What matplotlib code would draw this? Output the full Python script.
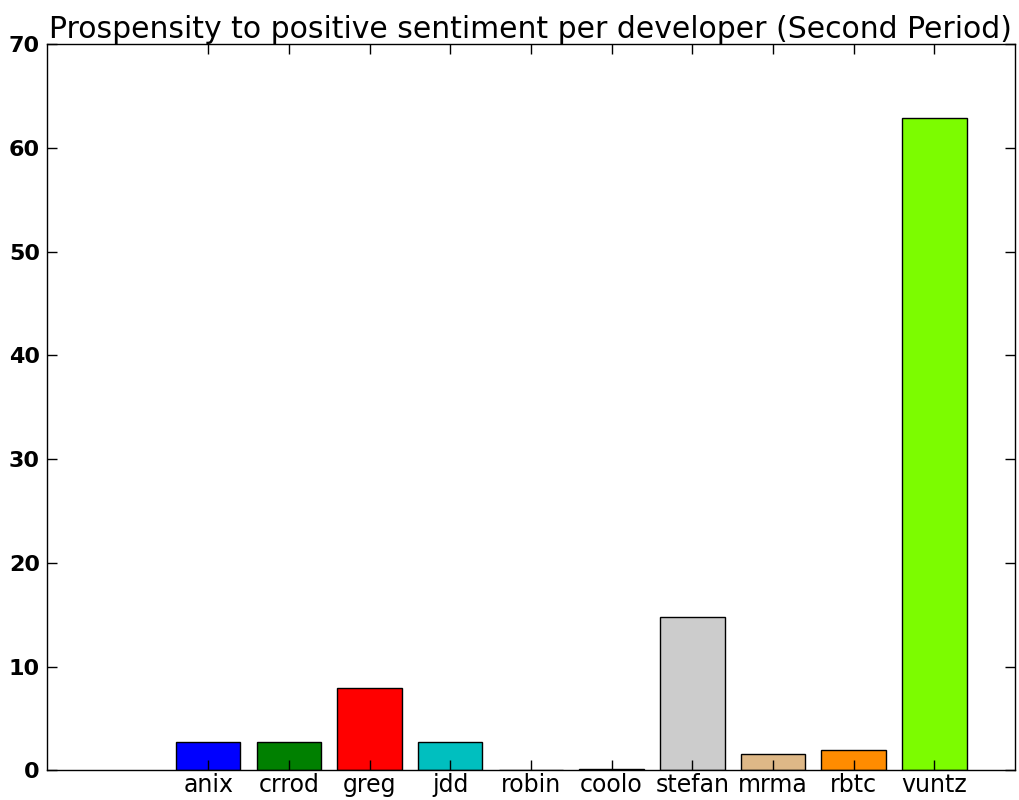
import matplotlib
matplotlib.use("Agg")
import matplotlib.pyplot as plt
import numpy as np

developers = ["anix", "crrod", "greg", "jdd", "robin", "coolo", "stefan", "mrma", "rbtc", "vuntz"]
positive = [2.7, 2.7, 7.9, 2.7, 0.0, 0.1, 14.8, 1.55, 2.0, 62.9]
colors = ["blue", "green", "red", "c", "m", "y", "0.8", "burlywood", "darkorange", "lawngreen"]

fig = plt.figure(figsize=(10.19, 8), dpi=100)
ax = fig.add_axes([0.046, 0.037, 0.950, 0.908])

x = np.arange(len(developers))
ax.bar(x, positive, width=0.8, color=colors, edgecolor="black", linewidth=1.0)

ax.set_xlim(-2, 10)
ax.set_ylim(0, 70)
ax.set_xticks(x)
ax.set_xticklabels(developers, fontsize=17)
ax.set_yticks(range(0, 71, 10))
ax.tick_params(axis="y", labelsize=16, pad=5)
ax.tick_params(axis="x", pad=2)
for lbl in ax.get_yticklabels():
    lbl.set_fontweight("bold")
ax.tick_params(direction="in", top=True, right=True, length=7, width=1)
for s in ax.spines.values():
    s.set_linewidth(1.0)

ax.set_title("Prospensity to positive sentiment per developer (Second Period)", fontsize=21.5, pad=4)

fig.savefig("out.png", dpi=100)
